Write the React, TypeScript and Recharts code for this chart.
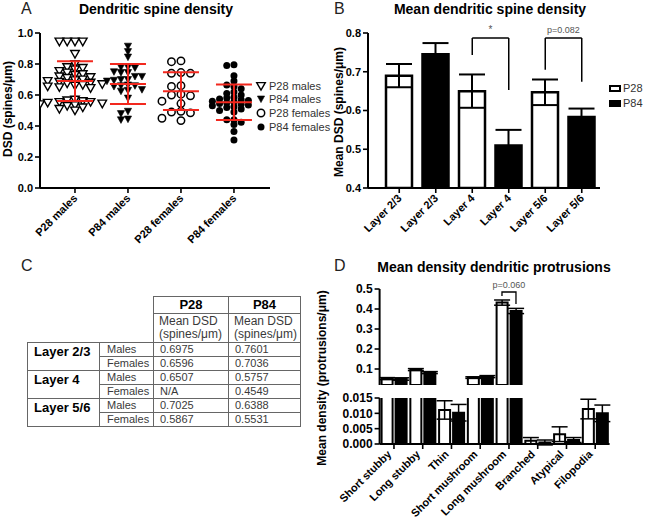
import React from 'react';
import {
  ScatterChart, Scatter, XAxis, YAxis, ErrorBar, BarChart, Bar, Cell, ReferenceLine, Rectangle,
} from 'recharts';

const FONT = '"Liberation Sans", Arial, Helvetica, sans-serif';

// ---------- Panel A data ----------
const groupNames = ['P28 males', 'P84 males', 'P28 females', 'P84 females'];
const p28Males = [0.945, 0.945, 0.945, 0.945, 0.865, 0.8, 0.78, 0.775, 0.765, 0.755, 0.745, 0.735, 0.73, 0.72,
  0.715, 0.71, 0.7, 0.695, 0.69, 0.685, 0.68, 0.675, 0.67, 0.665, 0.66, 0.655, 0.65, 0.645, 0.57, 0.565, 0.56,
  0.555, 0.555, 0.55, 0.545, 0.54, 0.535, 0.53, 0.52, 0.51, 0.5];
const p84Males = [0.915, 0.88, 0.845, 0.78, 0.78, 0.775, 0.75, 0.745, 0.745, 0.72, 0.72, 0.7, 0.7, 0.695, 0.69,
  0.665, 0.66, 0.66, 0.655, 0.635, 0.63, 0.625, 0.58, 0.495, 0.48, 0.445, 0.44];
const p28Females = [0.82, 0.815, 0.745, 0.74, 0.74, 0.66, 0.655, 0.605, 0.6, 0.595, 0.56, 0.545, 0.495, 0.49,
  0.485, 0.45, 0.435];
const p84Females = [0.795, 0.79, 0.725, 0.69, 0.665, 0.655, 0.64, 0.62, 0.61, 0.6, 0.585, 0.58, 0.575, 0.57,
  0.565, 0.56, 0.555, 0.55, 0.545, 0.54, 0.535, 0.53, 0.525, 0.52, 0.51, 0.5, 0.49, 0.44, 0.44, 0.425, 0.41,
  0.365, 0.31];
const groupMeans = [0.69, 0.671, 0.625, 0.553];
const groupSDs = [0.128, 0.129, 0.122, 0.114];

// ---------- Panel B data ----------
const layerLabels = ['Layer 2/3', 'Layer 2/3', 'Layer 4', 'Layer 4', 'Layer 5/6', 'Layer 5/6'];
const layerAges = ['P28', 'P84', 'P28', 'P84', 'P28', 'P84'];
const layerMeans = [0.69, 0.745, 0.65, 0.51, 0.647, 0.583];
const layerSEMs = [0.03, 0.029, 0.043, 0.04, 0.033, 0.022];

// ---------- Panel C data ----------
const tableLayers = ['Layer 2/3', 'Layer 4', 'Layer 5/6'];
const tableSexes = ['Males', 'Females'];
const tableP28 = ['0.6975', '0.6596', '0.6507', 'N/A', '0.7025', '0.5867'];
const tableP84 = ['0.7601', '0.7036', '0.5757', '0.4549', '0.6388', '0.5531'];

// ---------- Panel D data ----------
const protrusionTypes = ['Short stubby', 'Long stubby', 'Thin', 'Short mushroom', 'Long mushroom', 'Branched',
  'Atypical', 'Filopodia'];
const protP28 = [0.052, 0.097, 0.0111, 0.057, 0.432, 0.0011, 0.0032, 0.0114];
const protP28Err = [0.005, 0.005, 0.003, 0.004, 0.013, 0.001, 0.0024, 0.0032];
const protP84 = [0.05, 0.082, 0.0102, 0.062, 0.39, 0.0005, 0.0013, 0.01];
const protP84Err = [0.006, 0.005, 0.0027, 0.005, 0.013, 0.0008, 0.0008, 0.0027];

// ---------- helpers ----------
const PX_X = 53;
const PX_Y = 154.5;
// simple deterministic beeswarm layout (marker spacing in px)
function swarm(values: number[], center: number, Dx: number, Dy: number) {
  const placed: { x: number; y: number }[] = [];
  const out: { x: number; y: number }[] = [];
  const step = Dx / 2;
  values.forEach((v) => {
    const py = v * PX_Y;
    for (let k = 0; k < 80; k++) {
      const off = k === 0 ? 0 : (k % 2 ? -1 : 1) * Math.ceil(k / 2) * step;
      if (placed.every((p) => Math.abs(p.y - py) >= Dy || Math.abs(p.x - off) >= Dx)) {
        placed.push({ x: off, y: py });
        out.push({ x: center + off / PX_X, y: v });
        break;
      }
    }
  });
  return out;
}

const swarmData = [
  swarm(p28Males, 0, 7.8, 5),
  swarm(p84Males, 1, 7, 5),
  swarm(p28Females, 2, 9.5, 7),
  swarm(p84Females, 3, 7.2, 4.5),
];
const meanData = groupMeans.map((m, i) => ({ x: i, y: m, sd: groupSDs[i] }));

const openTri = (cx: number, cy: number) => (
  <path d={`M${cx - 4.3},${cy - 3.4}L${cx + 4.3},${cy - 3.4}L${cx},${cy + 4.2}Z`} fill="#fff" stroke="#000" strokeWidth={1.4} />
);
const fillTri = (cx: number, cy: number) => (
  <path d={`M${cx - 3.6},${cy - 3}L${cx + 3.6},${cy - 3}L${cx},${cy + 3.6}Z`} fill="#000" stroke="#000" strokeWidth={0.6} />
);
const openCirc = (cx: number, cy: number) => <circle cx={cx} cy={cy} r={3.7} fill="#fff" stroke="#000" strokeWidth={1.5} />;
const fillCirc = (cx: number, cy: number) => <circle cx={cx} cy={cy} r={3.5} fill="#000" />;
const markers = [openTri, fillTri, openCirc, fillCirc];

const RotTick = (props: any) => {
  const { x, y, payload, fmt, dx = 3, dy = 4, fontSize = 11 } = props;
  return (
    <text
      transform={`translate(${x + dx},${y + dy}) rotate(-45)`}
      textAnchor="end"
      fontSize={fontSize}
      fontWeight="bold"
      fontFamily={FONT}
      fill="#000"
    >
      {fmt(payload.value)}
    </text>
  );
};

const axisLine = { stroke: '#000', strokeWidth: 2 };
const tickLine = { stroke: '#000', strokeWidth: 1.6 };
const yTick = { fontSize: 11, fontWeight: 'bold', fill: '#000', fontFamily: FONT };
const RED = '#f2281e';

const Txt = (p: { x: number; y: number; children: any; size?: number; bold?: boolean; center?: boolean; rotate?: number; color?: string }) => (
  <div
    style={{
      position: 'absolute',
      left: p.x,
      top: p.y,
      transform: `translate(${p.center || p.rotate ? '-50%' : '0'},-50%) rotate(${p.rotate || 0}deg)`,
      fontSize: p.size || 11,
      fontWeight: p.bold ? 'bold' : 'normal',
      color: p.color || '#000',
      whiteSpace: 'nowrap',
      lineHeight: 1,
      fontFamily: FONT,
    }}
  >
    {p.children}
  </div>
);

// ---------- Panel B table ----------
const barBData = layerLabels.map((l, i) => ({ key: `${l}|${layerAges[i]}`, age: layerAges[i], v: layerMeans[i], e: layerSEMs[i] }));
const bKeys = barBData.map((d) => d.key);

// ---------- Panel D tables ----------
const TOP_MIN = 0.02;
const protTop = protrusionTypes.map((t, i) => ({
  name: t,
  a: protP28[i] > TOP_MIN ? protP28[i] : null,
  ae: protP28[i] > TOP_MIN ? protP28Err[i] : null,
  b: protP84[i] > TOP_MIN ? protP84[i] : null,
  be: protP84[i] > TOP_MIN ? protP84Err[i] : null,
}));
const protBottom = protrusionTypes.map((t, i) => ({
  name: t,
  a: protP28[i],
  ae: protP28[i] < 0.015 ? protP28Err[i] : null,
  b: protP84[i],
  be: protP84[i] < 0.015 ? protP84Err[i] : null,
}));

const barShape = (props: any) => (props.height > 0.5 ? <Rectangle {...props} /> : null);

const Bracket = (props: any) => {
  const { x1, y1 } = props;
  if (x1 == null) return null;
  return (
    <g>
      <path d={`M${x1 - 7},${y1 + 4}V${y1}H${x1 + 7}V${y1 + 12}`} fill="none" stroke="#000" strokeWidth={1.3} />
      <text x={x1} y={y1 - 4} textAnchor="middle" fontSize={9} fill="#555" fontFamily={FONT}>p=0.060</text>
    </g>
  );
};

const cellStyle: React.CSSProperties = { border: '1px solid #666', padding: '0 0 0 6px', height: 13, lineHeight: '12px', fontSize: 11, color: '#3a3a3a', whiteSpace: 'nowrap' };

const A_MARGIN = { top: 33, right: 60, bottom: 12, left: 0 };

export default function App() {
  return (
    <div style={{ position: 'absolute', left: 0, top: 0, width: 654, height: 522, background: '#fff', overflow: 'hidden', fontFamily: FONT }}>
      {/* Panel A */}
      <Txt x={21} y={9} size={16} color="#222">A</Txt>
      <Txt x={156} y={9} size={14} bold center>Dendritic spine density</Txt>
      <Txt x={8} y={109} size={12} bold rotate={-90}>DSD (spines/μm)</Txt>
      <div style={{ position: 'absolute', left: 0, top: 0 }}>
        <ScatterChart width={330} height={260} margin={A_MARGIN}>
          <XAxis
            type="number"
            dataKey="x"
            domain={[-0.66, 3.68]}
            ticks={[0, 1, 2, 3]}
            allowDataOverflow
            height={60}
            axisLine={axisLine}
            tickLine={tickLine}
            tickSize={5}
            interval={0}
            tick={<RotTick fmt={(v: number) => groupNames[v]} />}
          />
          <YAxis
            type="number"
            dataKey="y"
            domain={[0, 1]}
            ticks={[0, 0.2, 0.4, 0.6, 0.8, 1]}
            interval={0}
            width={40}
            axisLine={axisLine}
            tickLine={tickLine}
            tickSize={5}
            tick={yTick}
            tickFormatter={(v: number) => v.toFixed(1)}
          />
          {swarmData.map((d, i) => (
            <Scatter key={i} data={d} isAnimationActive={false} shape={(p: any) => markers[i](p.cx, p.cy)} />
          ))}
        </ScatterChart>
      </div>
      {/* overlay: mean ± SD drawn on top of the points */}
      <div style={{ position: 'absolute', left: 0, top: 0 }}>
        <ScatterChart width={330} height={260} margin={A_MARGIN}>
          <XAxis type="number" dataKey="x" domain={[-0.66, 3.68]} allowDataOverflow height={60} axisLine={false} tickLine={false} tick={false} />
          <YAxis type="number" dataKey="y" domain={[0, 1]} width={40} axisLine={false} tickLine={false} tick={false} />
          <Scatter
            data={meanData}
            isAnimationActive={false}
            shape={(p: any) => <line x1={p.cx - 18} x2={p.cx + 18} y1={p.cy} y2={p.cy} stroke={RED} strokeWidth={2} />}
          >
            <ErrorBar dataKey="sd" direction="y" width={18} stroke={RED} strokeWidth={2} />
          </Scatter>
        </ScatterChart>
      </div>
      {groupNames.map((g, i) => (
        <React.Fragment key={g}>
          <svg style={{ position: 'absolute', left: 255, top: [86, 99, 113, 127][i] - 6 }} width={12} height={12}>
            {markers[i](6, 6)}
          </svg>
          <Txt x={269} y={[86, 99, 113, 127][i]} size={11} color="#333">{g}</Txt>
        </React.Fragment>
      ))}

      {/* Panel B */}
      <Txt x={334} y={9} size={16} color="#222">B</Txt>
      <Txt x={490} y={9} size={14} bold center>Mean dendritic spine density</Txt>
      <Txt x={339} y={112} size={12} bold rotate={-90}>Mean DSD (spines/μm)</Txt>
      <div style={{ position: 'absolute', left: 320, top: 0 }}>
        <BarChart width={334} height={260} data={barBData} margin={{ top: 33, right: 54, bottom: 12, left: 0 }}>
          <XAxis
            dataKey="key"
            padding={{ left: 13, right: 0 }}
            height={60}
            interval={0}
            axisLine={axisLine}
            tickLine={tickLine}
            tickSize={5}
            tick={<RotTick fmt={(v: string) => v.split('|')[0]} />}
          />
          <YAxis
            domain={[0.4, 0.8]}
            ticks={[0.4, 0.5, 0.6, 0.7, 0.8]}
            interval={0}
            allowDataOverflow
            width={48}
            axisLine={axisLine}
            tickLine={tickLine}
            tickSize={5}
            tick={yTick}
            tickFormatter={(v: number) => v.toFixed(1)}
          />
          <Bar dataKey="v" barSize={26} stroke="#000" strokeWidth={2.5} isAnimationActive={false}>
            {barBData.map((d, i) => (
              <Cell key={i} fill={d.age === 'P28' ? '#fff' : '#000'} />
            ))}
            <ErrorBar dataKey="e" width={13} stroke="#000" strokeWidth={2} direction="y" />
          </Bar>
          <ReferenceLine segment={[{ x: bKeys[2], y: 0.743 }, { x: bKeys[2], y: 0.787 }]} stroke="#000" strokeWidth={1.5} />
          <ReferenceLine
            segment={[{ x: bKeys[2], y: 0.787 }, { x: bKeys[3], y: 0.787 }]}
            stroke="#000"
            strokeWidth={1.5}
            label={{ value: '*', position: 'top', fontSize: 10, fill: '#555' }}
          />
          <ReferenceLine segment={[{ x: bKeys[3], y: 0.787 }, { x: bKeys[3], y: 0.653 }]} stroke="#000" strokeWidth={1.5} />
          <ReferenceLine segment={[{ x: bKeys[4], y: 0.705 }, { x: bKeys[4], y: 0.787 }]} stroke="#000" strokeWidth={1.5} />
          <ReferenceLine
            segment={[{ x: bKeys[4], y: 0.787 }, { x: bKeys[5], y: 0.787 }]}
            stroke="#000"
            strokeWidth={1.5}
            label={{ value: 'p=0.082', position: 'top', fontSize: 9, fill: '#555' }}
          />
          <ReferenceLine segment={[{ x: bKeys[5], y: 0.787 }, { x: bKeys[5], y: 0.674 }]} stroke="#000" strokeWidth={1.5} />
        </BarChart>
      </div>
      <div style={{ position: 'absolute', left: 609, top: 85, width: 8, height: 3, border: '2px solid #000', background: '#fff' }} />
      <div style={{ position: 'absolute', left: 609, top: 100, width: 12, height: 7, background: '#000' }} />
      <Txt x={623} y={88} size={11} color="#333">P28</Txt>
      <Txt x={623} y={103} size={11} color="#333">P84</Txt>

      {/* Panel C */}
      <Txt x={21} y={266} size={16} color="#222">C</Txt>
      <table style={{ position: 'absolute', left: 27, top: 296, borderCollapse: 'collapse', fontFamily: FONT, tableLayout: 'fixed', width: 273 }}>
        <colgroup>
          <col style={{ width: 72 }} />
          <col style={{ width: 54 }} />
          <col style={{ width: 75 }} />
          <col style={{ width: 72 }} />
        </colgroup>
        <tbody>
          <tr>
            <td style={{ height: 15 }} />
            <td />
            <td style={{ ...cellStyle, height: 15, textAlign: 'center', padding: 0, fontSize: 13, fontWeight: 'bold', color: '#000' }}>P28</td>
            <td style={{ ...cellStyle, height: 15, textAlign: 'center', padding: 0, fontSize: 13, fontWeight: 'bold', color: '#000' }}>P84</td>
          </tr>
          <tr>
            <td style={{ height: 26 }} />
            <td />
            <td style={{ ...cellStyle, height: 26, fontSize: 12, lineHeight: '13px', paddingLeft: 5 }}>Mean DSD<br />(spines/μm)</td>
            <td style={{ ...cellStyle, height: 26, fontSize: 12, lineHeight: '13px', paddingLeft: 5 }}>Mean DSD<br />(spines/μm)</td>
          </tr>
          {tableLayers.map((layer, li) =>
            tableSexes.map((sex, si) => {
              const idx = li * 2 + si;
              return (
                <tr key={idx}>
                  {si === 0 && (
                    <td rowSpan={2} style={{ ...cellStyle, verticalAlign: 'top', fontSize: 13, fontWeight: 'bold', color: '#000', paddingTop: 2, lineHeight: '14px' }}>
                      {layer}
                    </td>
                  )}
                  <td style={{ ...cellStyle, paddingLeft: 7 }}>{sex}</td>
                  <td style={cellStyle}>{tableP28[idx]}</td>
                  <td style={cellStyle}>{tableP84[idx]}</td>
                </tr>
              );
            })
          )}
        </tbody>
      </table>

      {/* Panel D */}
      <Txt x={334} y={266} size={16} color="#222">D</Txt>
      <Txt x={494} y={267} size={14} bold center>Mean density dendritic protrusions</Txt>
      <Txt x={322} y={378} size={12} bold rotate={-90}>Mean density (protrusions/μm)</Txt>
      <div style={{ position: 'absolute', left: 300, top: 280 }}>
        <BarChart width={354} height={110} data={protTop} margin={{ top: 9, right: 44.4, bottom: 5, left: 0 }} barGap={3}>
          <XAxis dataKey="name" hide />
          <YAxis
            domain={[TOP_MIN, 0.5]}
            ticks={[0.1, 0.2, 0.3, 0.4, 0.5]}
            interval={0}
            allowDataOverflow
            width={79.6}
            axisLine={axisLine}
            tickLine={tickLine}
            tickSize={5}
            tick={{ ...yTick, fontSize: 12 }}
            tickFormatter={(v: number) => v.toFixed(1)}
          />
          <Bar dataKey="a" barSize={11} fill="#fff" stroke="#000" strokeWidth={2} isAnimationActive={false} shape={barShape}>
            <ErrorBar dataKey="ae" width={8} stroke="#000" strokeWidth={1.5} direction="y" />
          </Bar>
          <Bar dataKey="b" barSize={11} fill="#000" stroke="#000" strokeWidth={2} isAnimationActive={false} shape={barShape}>
            <ErrorBar dataKey="be" width={8} stroke="#000" strokeWidth={1.5} direction="y" />
          </Bar>
          <ReferenceLine segment={[{ x: 'Long mushroom', y: 0.485 }, { x: 'Long mushroom', y: 0.485 }]} shape={Bracket} />
        </BarChart>
      </div>
      <div style={{ position: 'absolute', left: 300, top: 390 }}>
        <BarChart width={354} height={132} data={protBottom} margin={{ top: 8, right: 44.4, bottom: 0, left: 0 }} barGap={3}>
          <XAxis
            dataKey="name"
            height={78}
            interval={0}
            axisLine={axisLine}
            tickLine={tickLine}
            tickSize={5}
            tick={<RotTick fmt={(v: string) => v} dx={-2} dy={4} fontSize={11} />}
          />
          <YAxis
            domain={[0, 0.015]}
            ticks={[0, 0.005, 0.01, 0.015]}
            interval={0}
            allowDataOverflow
            width={79.6}
            axisLine={axisLine}
            tickLine={tickLine}
            tickSize={5}
            tick={{ ...yTick, fontSize: 12 }}
            tickFormatter={(v: number) => v.toFixed(3)}
          />
          <Bar dataKey="a" barSize={11} fill="#fff" stroke="#000" strokeWidth={2} isAnimationActive={false}>
            <ErrorBar dataKey="ae" width={8} stroke="#000" strokeWidth={1.5} direction="y" />
          </Bar>
          <Bar dataKey="b" barSize={11} fill="#000" stroke="#000" strokeWidth={2} isAnimationActive={false}>
            <ErrorBar dataKey="be" width={8} stroke="#000" strokeWidth={1.5} direction="y" />
          </Bar>
        </BarChart>
      </div>
    </div>
  );
}
